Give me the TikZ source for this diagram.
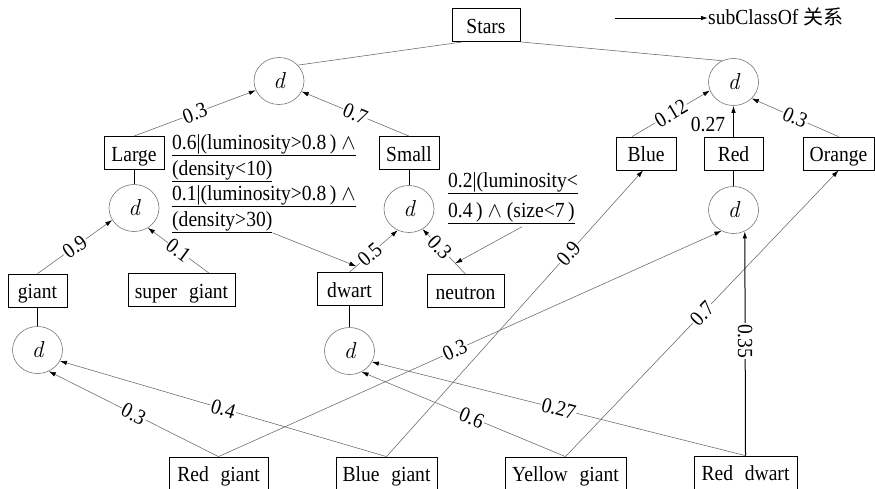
\RequirePackage{fix-cm}
\documentclass[tikz,border=0pt]{standalone}
\usepackage{fontspec}
\setmainfont{Liberation Serif}[FakeStretch=0.91]
\newfontfamily\cjk{Noto Sans CJK SC}
\newfontfamily\lmfont{Latin Modern Roman}
\usetikzlibrary{arrows.meta,shapes.geometric}
\newcommand\wsp{\hspace{0.55em}}
\newcommand\dsym{{\lmfont\itshape d}}
\begin{document}
\begin{tikzpicture}[x=1pt,y=-1pt,
  every node/.style={font=\fontsize{21.5}{25}\selectfont},
  cls/.style={draw, line width=0.8pt, minimum height=33pt, inner xsep=6pt, inner ysep=0pt,
    text height=16.5pt, text depth=0.5pt},
  dis/.style={ellipse, draw=black!55, line width=0.6pt, minimum width=50pt, minimum height=47pt,
    inner sep=0pt, font=\fontsize{23}{25}\selectfont},
  sub/.style={draw=black!60, line width=0.55pt, -{Latex[length=7pt,width=4.5pt,color=black]}},
  link/.style={draw=black!60, line width=0.55pt},
  stem/.style={draw=black, line width=0.8pt},
  wt/.style={fill=white, inner sep=1pt, sloped},
  cond/.style={anchor=base west, inner sep=0pt},
]
\useasboundingbox (0,0) rectangle (875,488);
\clip (0,0) rectangle (875,488);

% legend
\node[anchor=base west, inner sep=0pt] (legend) at (708,24) {subClassOf {\cjk\fontsize{20}{24}\selectfont 关系}};
\coordinate (legtail) at (615,18);
\draw[line width=0.8pt, -{Latex[length=7pt,width=4.5pt]}] (legtail) -- (legtail -| legend.west);

% classes
\node[cls, minimum width=68pt]  (stars)   at (486,25)      {Stars};
\node[cls, minimum width=60pt]  (large)   at (134,153)     {Large};
\node[cls, minimum width=60pt]  (small)   at (409,153)     {Small};
\node[cls, minimum width=60pt]  (blue)    at (646,153.5)   {Blue};
\node[cls, minimum width=59pt]  (red)     at (733.5,153.5) {Red};
\node[cls, minimum width=71pt]  (orange)  at (838.5,153.5) {Orange};
\node[cls, minimum width=59pt]  (giant)   at (37.5,290.5)  {giant};
\node[cls, minimum width=107pt] (sgiant)  at (181.5,290)   {super\wsp giant};
\node[cls, minimum width=65pt]  (dwart)   at (349.5,289)   {dwart};
\node[cls, minimum width=77pt]  (neutron) at (465.5,291)   {neutron};
\node[cls, minimum width=99pt]  (rgiant)  at (218.5,473.5) {Red\wsp giant};
\node[cls, minimum width=101pt] (bgiant)  at (386.5,473.5) {Blue\wsp giant};
\node[cls, minimum width=121pt] (ygiant)  at (565.5,473.5) {Yellow\wsp giant};
\node[cls, minimum width=103pt] (rdwart)  at (745.5,472.5) {Red\wsp dwart};

% disjointness nodes
\node[dis] (dL)  at (279,81)    {\dsym};
\node[dis] (dR)  at (733.5,82)  {\dsym};
\node[dis] (dLL) at (134,208)   {\dsym};
\node[dis] (dSm) at (409,209)   {\dsym};
\node[dis] (dRL) at (733.5,210) {\dsym};
\node[dis] (dG)  at (37.5,350)  {\dsym};
\node[dis] (dDw) at (349.5,351) {\dsym};

% conditions
\node[cond] (a1) at (172,149) {\underline{0.6|(luminosity>0.8\,) $\wedge$}};
\node[cond] (a2) at (172,175) {\underline{(density<10)}};
\node[cond] (a3) at (172,200) {\underline{0.1|(luminosity>0.8\,) $\wedge$}};
\node[cond] (a4) at (172,226) {\underline{(density>30)}};
\node[cond] (b1) at (448,187) {\underline{0.2|(luminosity<}};
\node[cond] (b2) at (448,217) {\underline{0.4\,) $\wedge$ (size<7\,)}};

% Stars to its partitions
\draw[link] ([xshift=11pt]stars.south west) -- (dL.40);
\draw[link] (stars.south east) -- (dR.118);

% first level
\draw[sub] (large.north) -- node[wt]{0.3} (dL.202);
\draw[sub] (small.north) -- node[wt]{0.7} (dL.-25);
\draw[sub] ([xshift=-14pt]blue.north) -- node[wt]{0.12} (dR.200);
\draw[sub, draw=black, line width=0.8pt] (red) -- node[pos=0.4, anchor=east, xshift=-8pt, inner sep=0pt]{0.27} (dR);
\draw[sub] (orange.north) -- node[wt]{0.3} (dR.318);

\draw[stem] (large) -- (dLL);
\draw[stem] (small) -- (dSm);
\draw[stem] (red) -- (dRL);

% second level
\draw[sub] (giant.north) -- node[wt]{0.9} (dLL.209);
\draw[sub] ([xshift=27.5pt]sgiant.north) -- node[wt]{0.1} (dLL.-55);
\draw[sub] (dwart.north) -- node[wt, pos=0.42]{0.5} coordinate[pos=0.14] (hit1) (dSm.242);
\draw[sub] (neutron.north) -- node[wt, pos=0.6]{0.3} coordinate[pos=0.24] (hit2) (dSm.-56);

\draw[stem] (giant) -- (dG);
\draw[stem] (dwart) -- (dDw);

% condition pointers
\draw[sub] (a4.south east) -- (hit1);
\draw[sub] ([xshift=74pt,yshift=-3pt]b2.south west) -- (hit2);

% leaf classes
\draw[sub] (rgiant.north) -- node[wt]{0.3} (dG.-62);
\draw[sub] (bgiant.north) -- node[wt]{0.4} (dG.-26);
\draw[sub] (rgiant.north) -- node[wt, pos=0.47]{0.3} (dRL.240);
\draw[sub] (bgiant.north) -- node[wt, pos=0.71]{0.9} ([xshift=-3pt]blue.south);
\draw[sub] (ygiant.north) -- node[wt, pos=0.46]{0.6} (dDw.-60);
\draw[sub] (ygiant.north) -- node[wt]{0.7} (orange.south);
\draw[sub] (rdwart.north) -- node[wt]{0.27} (dDw.-26);
\draw[sub, draw=black, line width=1pt] (rdwart.north) -- node[pos=0.51, fill=white, inner sep=1pt, rotate=-90]{0.35} (dRL.298);
\end{tikzpicture}
\end{document}
